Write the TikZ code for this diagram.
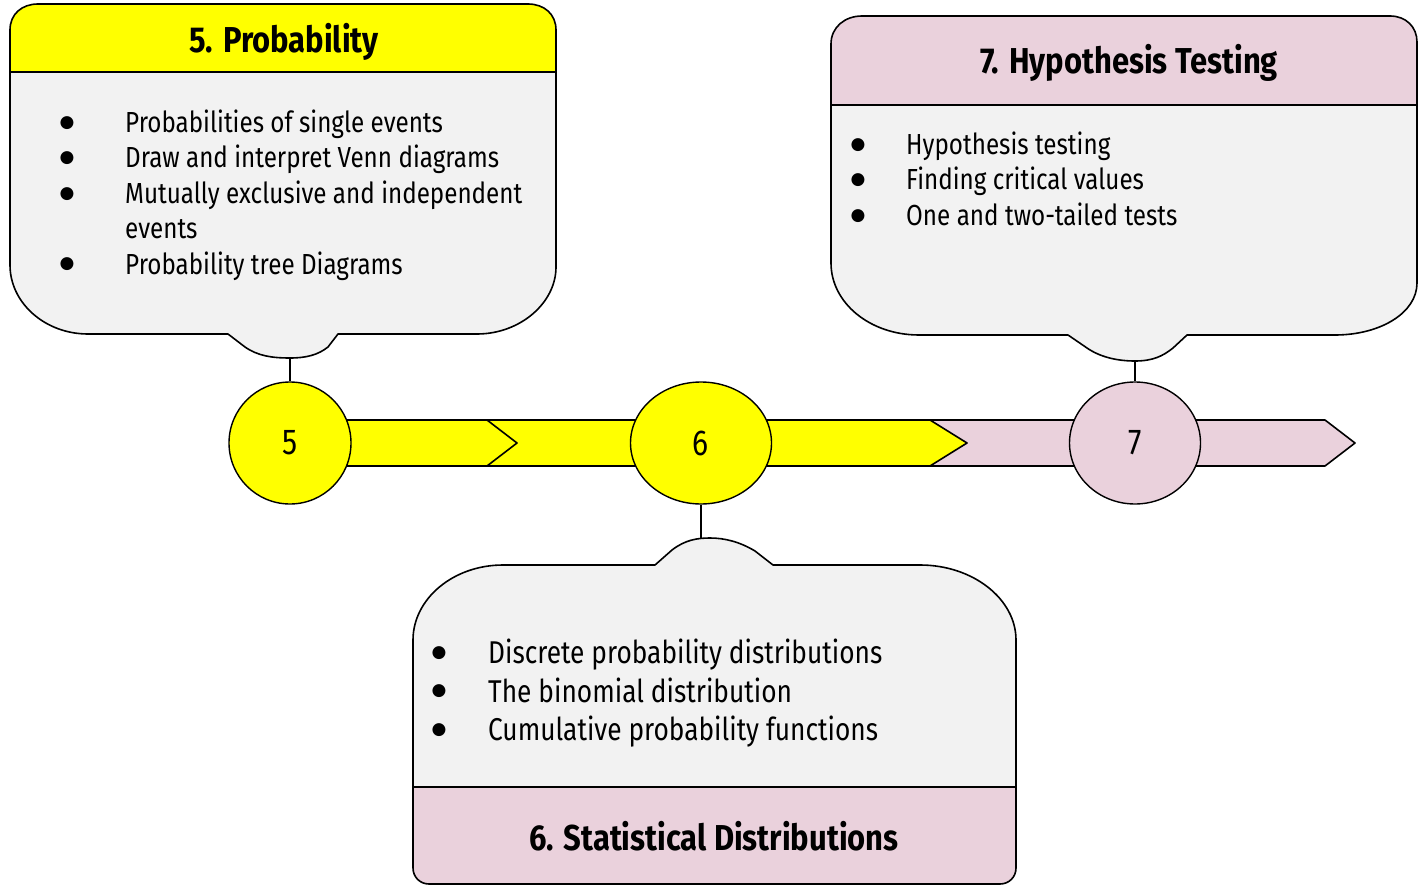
\documentclass[tikz,border=0pt]{standalone}
\usepackage{fontspec}
\setmainfont{Fira Sans}[FakeStretch=0.835]
\newfontfamily\titlefont{Fira Sans}[FakeStretch=0.86]
\newfontfamily\bulletfont{DejaVu Sans}
\usetikzlibrary{shapes.geometric}
\definecolor{ylw}{HTML}{FFFF00}
\definecolor{pnk}{HTML}{EAD1DC}
\definecolor{lgray}{HTML}{F2F2F2}
\tikzset{
  outline/.style={draw=black, line width=1.6pt, line join=round},
  item/.style={anchor=base west, inner sep=0pt, font=\fontsize{29}{35}\selectfont},
  itemb/.style={anchor=base west, inner sep=0pt, font=\fontsize{31.5}{38}\selectfont},
  bul/.style={anchor=center, inner sep=0pt, font=\bulletfont\fontsize{17}{17}\selectfont},
  ttl/.style={anchor=base, inner sep=0pt, font=\titlefont\bfseries\fontsize{36}{40}\selectfont},
  disc/.style={ellipse, draw=black, line width=1.4pt, inner sep=0pt, font=\fontsize{36}{36}\selectfont},
  stem/.style={draw=black, line width=1.6pt},
}
\begin{document}
\begin{tikzpicture}[x=1pt, y=-1pt]
\useasboundingbox (0,0) rectangle (1418,885);
\clip (0,0) rectangle (1418,885);

% ---------- Box 5 ----------
\fill[lgray] (10,72) -- (10,265) .. controls (10,303) and (45,334) .. (88,334) -- (228,334) -- (245,347) .. controls (258,356) and (272,358) .. (290,358) .. controls (306,358) and (318,355) .. (328,347) -- (338,334) -- (477,334) .. controls (520,334) and (556,303) .. (556,267) -- (556,72) -- cycle;
\fill[ylw] (10,72) -- (10,30) .. controls (10,14) and (22,4) .. (38,4) -- (528,4) .. controls (544,4) and (556,14) .. (556,30) -- (556,72) -- cycle;
\draw[outline] (10,72) -- (10,30) .. controls (10,14) and (22,4) .. (38,4) -- (528,4) .. controls (544,4) and (556,14) .. (556,30) -- (556,267) .. controls (556,303) and (520,334) .. (477,334) -- (338,334) -- (328,347) .. controls (318,355) and (306,358) .. (290,358) .. controls (272,358) and (258,356) .. (245,347) -- (228,334) -- (88,334) .. controls (45,334) and (10,303) .. (10,265) -- cycle;
\draw[outline] (10,72) -- (556,72);
\coordinate (t5) at (290,358);

% ---------- Box 7 ----------
\fill[lgray] (831,105) -- (831,263) .. controls (831,303) and (870,335) .. (919,335) -- (1068,335) -- (1087,348) .. controls (1100,357) and (1117,361) .. (1135,361) .. controls (1153,361) and (1163,356) .. (1173,348) -- (1187,335) -- (1335,335) .. controls (1380,335) and (1417,313) .. (1417,283) -- (1417,105) -- cycle;
\fill[pnk] (831,105) -- (831,44) .. controls (831,27) and (845,16) .. (862,16) -- (1390,16) .. controls (1406,16) and (1417,27) .. (1417,42) -- (1417,105) -- cycle;
\draw[outline] (831,105) -- (831,44) .. controls (831,27) and (845,16) .. (862,16) -- (1390,16) .. controls (1406,16) and (1417,27) .. (1417,42) -- (1417,283) .. controls (1417,313) and (1380,335) .. (1335,335) -- (1187,335) -- (1173,348) .. controls (1163,356) and (1153,361) .. (1135,361) .. controls (1117,361) and (1100,357) .. (1087,348) -- (1068,335) -- (919,335) .. controls (870,335) and (831,303) .. (831,263) -- cycle;
\draw[outline] (831,105) -- (1417,105);
\coordinate (t7) at (1135,361);

% ---------- Box 6 ----------
\fill[lgray] (413,787) -- (413,640) .. controls (413,599) and (453,565) .. (503,565) -- (655,565) -- (672,550) .. controls (685,540) and (697,538) .. (710,538) .. controls (725,538) and (740,542) .. (755,551) -- (773,565) -- (920,565) .. controls (973,565) and (1016,599) .. (1016,640) -- (1016,787) -- cycle;
\fill[pnk] (413,787) -- (1016,787) -- (1016,868) .. controls (1016,877) and (1009,884) .. (1000,884) -- (429,884) .. controls (420,884) and (413,877) .. (413,868) -- cycle;
\draw[outline] (413,868) -- (413,640) .. controls (413,599) and (453,565) .. (503,565) -- (655,565) -- (672,550) .. controls (685,540) and (697,538) .. (710,538) .. controls (725,538) and (740,542) .. (755,551) -- (773,565) -- (920,565) .. controls (973,565) and (1016,599) .. (1016,640) -- (1016,868) .. controls (1016,877) and (1009,884) .. (1000,884) -- (429,884) .. controls (420,884) and (413,877) .. (413,868) -- cycle;
\draw[outline] (413,787) -- (1016,787);
\coordinate (t6) at (701,538);

% ---------- Band ----------
\fill[pnk] (900,420) -- (1325,420) -- (1355,443) -- (1325,466) -- (900,466) -- cycle;
\draw[outline] (900,420) -- (1325,420) -- (1355,443) -- (1325,466) -- (900,466);
\fill[ylw] (487,420) -- (930,420) -- (967,443) -- (930,466) -- (487,466) -- cycle;
\draw[outline] (487,420) -- (930,420) -- (967,443) -- (930,466) -- (487,466);
\fill[ylw] (300,420) -- (487,420) -- (517,443) -- (487,466) -- (300,466) -- cycle;
\draw[outline] (300,420) -- (487,420) -- (517,443) -- (487,466) -- (300,466);

% ---------- Discs ----------
\node[disc, fill=ylw, minimum width=122pt, minimum height=122pt] (c5) at (290,443) {5};
\node[disc, fill=ylw, minimum width=141pt, minimum height=122pt] (c6) at (701,443) {6};
\node[disc, fill=pnk, minimum width=131pt, minimum height=122pt] (c7) at (1135,443) {7};

% ---------- Stems ----------
\draw[stem, line width=2.2pt] (t5) -- (c5.north);
\draw[stem] (c6.south) -- (t6);
\draw[stem] (t7) -- (c7.north);

% ---------- Texts box 5 ----------
\node[ttl] (h5) at (284,53) {5. Probability};
\node[bul] (b51) at (67,123) {●};
\node[item] (i51) at (125,133) {Probabilities of single events};
\node[bul] (b52) at (67,158) {●};
\node[item] (i52) at (125,168) {Draw and interpret Venn diagrams};
\node[bul] (b53) at (67,194) {●};
\node[item] (i53) at (125,204) {Mutually exclusive and independent};
\node[item] (i53b) at (125,239) {events};
\node[bul] (b54) at (67,264) {●};
\node[item] (i54) at (125,274) {Probability tree Diagrams};

% ---------- Texts box 7 ----------
\node[ttl] (h7) at (1129,74) {7. Hypothesis Testing};
\node[bul] (b71) at (858,145) {●};
\node[item] (i71) at (906,155) {Hypothesis testing};
\node[bul] (b72) at (858,180) {●};
\node[item] (i72) at (906,190) {Finding critical values};
\node[bul] (b73) at (858,216) {●};
\node[item] (i73) at (906,226) {One and two-tailed tests};

% ---------- Texts box 6 ----------
\node[ttl] (h6) at (714,850) {6. Statistical Distributions};
\node[bul] (b61) at (439,653) {●};
\node[itemb] (i61) at (488,663) {Discrete probability distributions};
\node[bul] (b62) at (439,691) {●};
\node[itemb] (i62) at (488,702) {The binomial distribution};
\node[bul] (b63) at (439,730) {●};
\node[itemb] (i63) at (488,740) {Cumulative probability functions};
\end{tikzpicture}
\end{document}
